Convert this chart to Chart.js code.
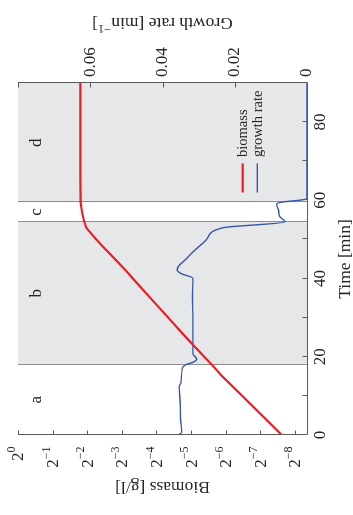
<!DOCTYPE html>
<html><head><meta charset="utf-8">
<script src="https://cdn.jsdelivr.net/npm/chart.js@4/dist/chart.umd.min.js"></script>
<style>
html,body{margin:0;padding:0;background:#fff;overflow:hidden;width:353px;height:515px;}
#wrap{position:absolute;left:0;top:0;width:515px;height:353px;transform-origin:0 0;transform:translateY(515px) rotate(-90deg);}
canvas{display:block;}
</style></head><body>
<div id="wrap"><canvas id="c" width="515" height="353"></canvas></div>
<script>
// ---- data ----
const timeBiomass = [0, 5, 10, 15, 18, 20, 25, 30, 35, 40, 42, 45, 48, 50, 53, 55, 57, 59.5, 65, 90];
const biomass = [0.00508, 0.00755, 0.0112, 0.01675, 0.02062, 0.02401, 0.03467, 0.04938, 0.07032, 0.1001, 0.1150, 0.1436, 0.1805, 0.2088, 0.2553, 0.2679, 0.2774, 0.2852, 0.2872, 0.2872];
const timeRate = [0, 0.7, 4, 8.2, 12.4, 13.3, 17.1, 18.0, 18.6, 19.4, 20.8, 25, 30, 35, 40.1, 41.2, 42.2, 43.1, 44.8, 47.3, 50, 53, 54.5, 55.8, 57.5, 59.1, 59.6, 60.1, 60.5, 90];
const growthRate = [0.0356, 0.0347, 0.0350, 0.0351, 0.0354, 0.0349, 0.0345, 0.0335, 0.0316, 0.0305, 0.0316, 0.0316, 0.0316, 0.0317, 0.0316, 0.0347, 0.0359, 0.0356, 0.0337, 0.0310, 0.0278, 0.0232, 0.0061, 0.0075, 0.0079, 0.0084, 0.0065, 0.0015, 0, 0];
const phaseNames = ['a', 'b', 'c', 'd'];
const phaseBounds = [0, 18, 54.5, 59.5, 90];
const shadedPhases = ['b', 'd'];
const timeTickStep = 10;
const timeLabelStep = 20;
const biomassTickExps = [0, -1, -2, -3, -4, -5, -6, -7, -8];
const rateTickStep = 0.02;
const seriesLabels = ['biomass', 'growth rate'];
const axisTitles = { time: 'Time [min]', biomass: 'Biomass [g/l]', rate: 'Growth rate [min', rateSup: '\u22121', rateEnd: ']' };

const FONT = '"Liberation Serif","Times New Roman",serif';
const RED = '#ec1c24', BLUE = '#3557a7', TXT = '#262626', AXIS = '#5a5a5a';

const deco = {
  id: 'deco',
  beforeDatasetsDraw(chart) {
    const { ctx, chartArea: a, scales: { x } } = chart;
    ctx.save();
    phaseNames.forEach((p, i) => {
      if (shadedPhases.includes(p)) {
        const x0 = x.getPixelForValue(phaseBounds[i]), x1 = x.getPixelForValue(phaseBounds[i + 1]);
        ctx.fillStyle = '#e6e7e9';
        ctx.fillRect(x0, a.top, x1 - x0, a.bottom - a.top);
      }
    });
    ctx.strokeStyle = '#8e8e8e'; ctx.lineWidth = 1;
    for (let i = 1; i < phaseBounds.length - 1; i++) {
      const px = Math.round(x.getPixelForValue(phaseBounds[i])) + 0.5;
      ctx.beginPath(); ctx.moveTo(px, a.top); ctx.lineTo(px, a.bottom); ctx.stroke();
    }
    ctx.fillStyle = TXT; ctx.font = '17px ' + FONT; ctx.textAlign = 'center'; ctx.textBaseline = 'alphabetic';
    phaseNames.forEach((p, i) => {
      const cx = x.getPixelForValue((phaseBounds[i] + phaseBounds[i + 1]) / 2);
      ctx.fillText(p, cx, a.top + 23);
    });
    ctx.restore();
  },
  afterDatasetsDraw(chart) {
    const { ctx, chartArea: a, scales: { x, y, y2 } } = chart;
    ctx.save();
    // frame (left, bottom, right)
    ctx.strokeStyle = AXIS; ctx.lineWidth = 1;
    ctx.beginPath();
    ctx.moveTo(a.left + 0.5, a.top); ctx.lineTo(a.left + 0.5, a.bottom + 0.5);
    ctx.lineTo(a.right + 0.5, a.bottom + 0.5); ctx.lineTo(a.right + 0.5, a.top);
    ctx.stroke();
    // inward ticks
    ctx.beginPath();
    x.ticks.forEach(t => { const px = Math.round(x.getPixelForValue(t.value)) + 0.5; ctx.moveTo(px, a.bottom); ctx.lineTo(px, a.bottom - 4.5); });
    y.ticks.forEach(t => { const py = Math.round(y.getPixelForValue(t.value)) + 0.5; ctx.moveTo(a.left, py); ctx.lineTo(a.left + 4.5, py); });
    y2.ticks.forEach(t => { const py = Math.round(y2.getPixelForValue(t.value)) + 0.5; ctx.moveTo(a.right, py); ctx.lineTo(a.right - 4.5, py); });
    ctx.stroke();
    // biomass tick labels 2^n
    ctx.fillStyle = TXT; ctx.textBaseline = 'middle'; ctx.textAlign = 'left';
    y.ticks.forEach((t, i) => {
      const e = biomassTickExps[i];
      const py = y.getPixelForValue(t.value);
      const sup = e === 0 ? '0' : '\u2212' + Math.abs(e);
      ctx.font = '12px ' + FONT; const ws = ctx.measureText(sup).width;
      ctx.font = '17px ' + FONT; const wb = ctx.measureText('2').width;
      const right = 68.5;
      ctx.fillText('2', right - ws - wb, py + 1);
      ctx.font = '12px ' + FONT;
      ctx.fillText(sup, right - ws, py - 6);
    });
    // titles
    ctx.textBaseline = 'alphabetic';
    ctx.font = '17.5px ' + FONT; ctx.textAlign = 'center';
    ctx.fillText(axisTitles.time, (a.left + a.right) / 2, 350);
    const cy = (a.top + a.bottom) / 2;
    ctx.save(); ctx.translate(33, cy); ctx.rotate(-Math.PI / 2);
    ctx.fillText(axisTitles.biomass, 0, 0); ctx.restore();
    ctx.save(); ctx.translate(496.5, cy); ctx.rotate(-Math.PI / 2);
    ctx.textAlign = 'left';
    ctx.font = '17.5px ' + FONT; const w1 = ctx.measureText(axisTitles.rate).width, w3 = ctx.measureText(axisTitles.rateEnd).width;
    ctx.font = '12.5px ' + FONT; const w2 = ctx.measureText(axisTitles.rateSup).width;
    let sx = -(w1 + w2 + w3) / 2;
    ctx.font = '17.5px ' + FONT; ctx.fillText(axisTitles.rate, sx, 0);
    ctx.font = '12.5px ' + FONT; ctx.fillText(axisTitles.rateSup, sx + w1, -7);
    ctx.font = '17.5px ' + FONT; ctx.fillText(axisTitles.rateEnd, sx + w1 + w2, 0);
    ctx.restore();
    // legend
    const colors = [RED, BLUE], widths = [2.2, 1.4], rows = [242.7, 257.3];
    ctx.font = '14.5px ' + FONT; ctx.textAlign = 'left';
    seriesLabels.forEach((lab, i) => {
      ctx.strokeStyle = colors[i]; ctx.lineWidth = widths[i];
      ctx.beginPath(); ctx.moveTo(322.5, rows[i]); ctx.lineTo(351.5, rows[i]); ctx.stroke();
      ctx.fillStyle = TXT; ctx.fillText(lab, 358, rows[i] + 4.5);
    });
    ctx.restore();
  }
};

const chart = new Chart(document.getElementById('c'), {
  type: 'line',
  data: {
    datasets: [
      { label: seriesLabels[0], data: timeBiomass.map((t, i) => ({ x: t, y: biomass[i] })), yAxisID: 'y', borderColor: RED, borderWidth: 2.2, pointRadius: 0, tension: 0 },
      { label: seriesLabels[1], data: timeRate.map((t, i) => ({ x: t, y: growthRate[i] })), yAxisID: 'y2', borderColor: BLUE, borderWidth: 1.4, pointRadius: 0, cubicInterpolationMode: 'monotone' }
    ]
  },
  options: {
    responsive: false, animation: false, devicePixelRatio: 1,
    layout: { padding: { top: 18, left: 0, right: 0, bottom: 0 } },
    plugins: { legend: { display: false }, tooltip: { enabled: false } },
    scales: {
      x: {
        type: 'linear', min: 0, max: 90,
        grid: { display: false, drawTicks: false }, border: { display: false },
        ticks: { stepSize: timeTickStep, autoSkip: false, maxRotation: 0, padding: 3, color: TXT, font: { family: FONT, size: 17 },
          callback: v => (Math.round(v) % timeLabelStep === 0 ? String(Math.round(v)) : '') },
        afterFit(s) { s.height = 46; }
      },
      y: {
        type: 'logarithmic', position: 'left', min: Math.pow(2, -8.35), max: 1,
        grid: { display: false, drawTicks: false }, border: { display: false },
        ticks: { display: false },
        afterBuildTicks(s) { s.ticks = biomassTickExps.map(e => ({ value: Math.pow(2, e) })); },
        afterFit(s) { s.width = 80; }
      },
      y2: {
        type: 'linear', position: 'right', min: 0, max: 0.08,
        grid: { display: false, drawTicks: false }, border: { display: false },
        ticks: { stepSize: rateTickStep, padding: 6, color: TXT, font: { family: FONT, size: 17 },
          callback: v => (Math.abs(v - 0.08) < 1e-9 ? '' : (Math.abs(v) < 1e-12 ? '0' : v.toFixed(2))) },
        afterFit(s) { s.width = 83; }
      }
    }
  },
  plugins: [deco]
});
</script>
</body></html>
